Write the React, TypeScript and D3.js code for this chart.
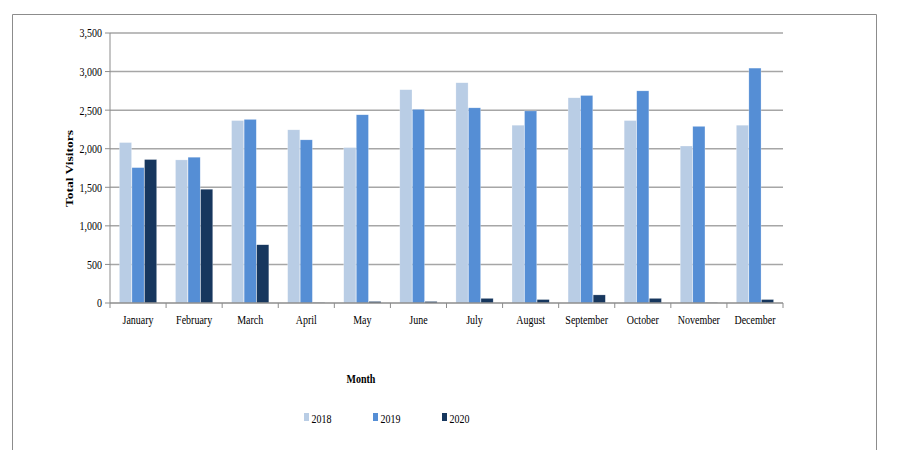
import React from "react";
import * as d3 from "d3";

const months = ["January","February","March","April","May","June","July","August","September","October","November","December"];
const seriesNames = ["2018","2019","2020"];
const values2018 = [2080,1855,2365,2245,2015,2765,2855,2305,2660,2365,2035,2305];
const values2019 = [1755,1890,2380,2115,2440,2510,2530,2490,2690,2750,2290,3045];
const values2020 = [1860,1475,755,5,20,20,60,45,105,60,5,45];
const yTicks = [0,500,1000,1500,2000,2500,3000,3500];
const colors = ["#B9CDE5","#558ED5","#17375E"];

const SX = 0.8;

function T(props: { x: number; y: number; anchor?: string; size?: number; bold?: boolean; children: React.ReactNode; dy?: string }) {
  return (
    <text transform={`translate(${props.x},${props.y}) scale(${SX},1)`} textAnchor={props.anchor || "start"}
      fontSize={props.size || 12.5} fontWeight={props.bold ? "bold" : "normal"} dy={props.dy} fill="#000">
      {props.children}
    </text>
  );
}

export default function App() {
  const W = 900, H = 450;
  const left = 110, right = 783, top = 33, bottom = 303;
  const x = d3.scaleBand<string>().domain(months).range([left, right]).paddingInner(0).paddingOuter(0);
  const inner = d3.scaleBand<string>().domain(seriesNames).range([0, x.bandwidth()]).paddingOuter(0.75).paddingInner(0.03);
  const y = d3.scaleLinear().domain([0, 3500]).range([bottom, top]);
  const data = [values2018, values2019, values2020];
  const font = "'Liberation Serif', 'Times New Roman', serif";
  const boundaries = months.map((m) => x(m)!).concat([right]);

  return (
    <svg width={W} height={H} style={{ position: "absolute", left: 0, top: 0, background: "#fff" }} fontFamily={font}>
      <rect x={0} y={0} width={W} height={H} fill="#fff" />
      <path d={`M12.5,${H + 5} V14.5 H876.5 V${H + 5}`} fill="none" stroke="#8c8c8c" strokeWidth={1} />
      {yTicks.map((t) => (
        <g key={t}>
          {t > 0 && <line x1={left} x2={right} y1={y(t)} y2={y(t)} stroke="#a6a6a6" strokeWidth={1.5} />}
          <line x1={left - 5} x2={left} y1={y(t)} y2={y(t)} stroke="#8c8c8c" strokeWidth={1} />
          <T x={left - 8} y={y(t)} dy="0.35em" anchor="end">{d3.format(",")(t)}</T>
        </g>
      ))}
      {months.map((m, i) => (
        <g key={m}>
          {data.map((vals, s) => (
            <rect key={s}
              x={x(m)! + inner(seriesNames[s])!}
              y={y(vals[i])}
              width={inner.bandwidth()}
              height={bottom - y(vals[i])}
              fill={colors[s]}
              stroke="#ffffff" strokeOpacity={0.5} strokeWidth={0.5} />
          ))}
          <T x={x(m)! + x.bandwidth() / 2} y={324} anchor="middle">{m}</T>
        </g>
      ))}
      <line x1={left} x2={left} y1={top} y2={bottom} stroke="#8c8c8c" strokeWidth={1} />
      <line x1={left} x2={right} y1={bottom} y2={bottom} stroke="#8c8c8c" strokeWidth={1.5} />
      {boundaries.map((b, i) => (
        <line key={i} x1={b} x2={b} y1={bottom} y2={bottom + 5} stroke="#8c8c8c" strokeWidth={1} />
      ))}
      <text transform={`translate(73,168.5) rotate(-90) scale(1,${SX})`} textAnchor="middle" fontSize={13.5} fontWeight="bold" fill="#000">Total Visitors</text>
      <T x={361} y={383} anchor="middle" bold>Month</T>
      {seriesNames.map((s, i) => (
        <g key={s}>
          <rect x={304 + i * 69} y={413} width={5} height={8} fill={colors[i]} />
          <T x={311.5 + i * 69} y={423}>{s}</T>
        </g>
      ))}
    </svg>
  );
}
